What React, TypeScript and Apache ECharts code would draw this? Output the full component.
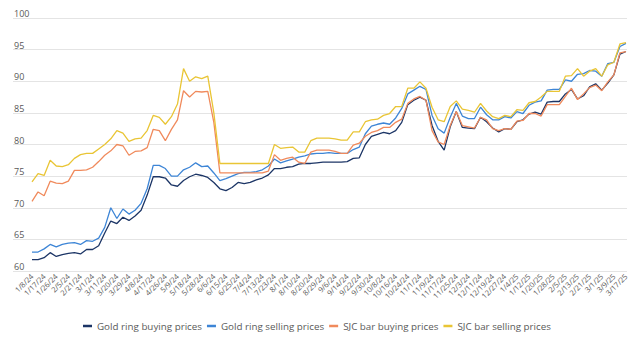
import React, { useEffect, useRef } from "react";
import * as echarts from "echarts";

const categories = [
  "1/8/24", "1/12/24", "1/17/24", "1/22/24", "1/26/24", "1/31/24", "2/5/24", "2/14/24", "2/21/24", "2/26/24",
  "3/1/24", "3/6/24", "3/11/24", "3/15/24", "3/20/24", "3/25/24", "3/29/24", "4/3/24", "4/8/24", "4/12/24",
  "4/17/24", "4/22/24", "4/26/24", "5/3/24", "5/9/24", "5/14/24", "5/18/24", "5/23/24", "5/28/24", "6/1/24",
  "6/6/24", "6/11/24", "6/15/24", "6/20/24", "6/25/24", "6/29/24", "7/4/24", "7/9/24", "7/13/24", "7/18/24",
  "7/23/24", "7/27/24", "8/1/24", "8/6/24", "8/10/24", "8/15/24", "8/20/24", "8/24/24", "8/29/24", "9/3/24",
  "9/6/24", "9/10/24", "9/14/24", "9/18/24", "9/22/24", "9/26/24", "9/30/24", "10/4/24", "10/8/24", "10/12/24",
  "10/16/24", "10/20/24", "10/24/24", "10/28/24", "11/1/24", "11/5/24", "11/9/24", "11/13/24", "11/17/24", "11/21/24",
  "11/25/24", "11/29/24", "12/3/24", "12/7/24", "12/11/24", "12/15/24", "12/19/24", "12/23/24", "12/27/24", "12/31/24",
  "1/4/25", "1/8/25", "1/12/25", "1/16/25", "1/20/25", "1/24/25", "1/28/25", "2/1/25", "2/5/25", "2/9/25",
  "2/13/25", "2/17/25", "2/21/25", "2/25/25", "3/1/25", "3/5/25", "3/9/25", "3/13/25", "3/17/25",
];

const ringBuy = [
  61.8, 61.8, 62.1, 62.9, 62.3, 62.6, 62.8, 62.9, 62.7, 63.4,
  63.4, 64.0, 66.0, 67.9, 67.5, 68.5, 68.0, 68.7, 69.6, 72.0,
  74.9, 74.9, 74.7, 73.6, 73.4, 74.3, 74.9, 75.3, 75.1, 74.8,
  74.0, 73.0, 72.7, 73.2, 74.0, 73.8, 74.0, 74.4, 74.7, 75.2,
  76.2, 76.2, 76.4, 76.5, 76.9, 77.0, 77.0, 77.1, 77.2, 77.2,
  77.2, 77.2, 77.3, 77.8, 77.9, 80.0, 81.3, 81.6, 81.9, 81.7,
  82.2, 83.5, 86.3, 87.0, 87.5, 87.0, 83.0, 80.5, 79.1, 82.8,
  85.2, 82.7, 82.6, 82.5, 84.3, 83.6, 82.6, 82.0, 82.5, 82.4,
  83.6, 83.9, 84.8, 85.1, 84.8, 86.7, 86.8, 86.8, 88.0, 88.7,
  87.2, 87.7, 89.1, 89.6, 88.6, 89.7, 91.0, 94.3, 94.7,
];

const ringSell = [
  63.0, 63.0, 63.5, 64.2, 63.8, 64.2, 64.4, 64.5, 64.2, 64.8,
  64.7, 65.2, 66.9, 70.0, 68.3, 69.8, 69.0, 69.6, 70.7, 73.0,
  76.7, 76.7, 76.2, 75.0, 75.0, 76.0, 76.4, 77.1, 76.5, 76.6,
  75.5, 74.3, 74.6, 75.0, 75.4, 75.6, 75.6, 75.7, 76.0, 76.6,
  77.7, 77.1, 77.4, 77.7, 78.0, 78.2, 78.5, 78.6, 78.6, 78.7,
  78.6, 78.6, 78.6, 79.2, 79.6, 81.7, 82.9, 83.2, 83.4, 83.2,
  84.2, 85.7, 88.0, 88.6, 89.2, 88.7, 84.6, 82.5, 81.8, 84.3,
  86.5, 84.5, 84.1, 84.1, 85.9, 84.7, 83.9, 83.9, 84.4, 84.2,
  85.2, 84.9, 86.2, 86.7, 86.9, 88.6, 88.7, 88.7, 90.2, 90.0,
  91.1, 91.2, 91.7, 91.6, 90.8, 92.8, 93.0, 95.5, 96.0,
];

const sjcBuy = [
  71.0, 72.5, 71.9, 74.2, 73.9, 73.8, 74.2, 75.9, 75.9, 76.0,
  76.4, 77.3, 78.3, 79.0, 80.0, 79.8, 78.3, 78.9, 79.0, 79.5,
  82.4, 82.2, 80.6, 82.4, 83.9, 88.5, 87.5, 88.4, 88.3, 88.4,
  83.5, 75.5, 75.5, 75.5, 75.5, 75.5, 75.5, 75.5, 75.5, 75.8,
  78.4, 77.5, 77.8, 78.0, 77.2, 77.0, 78.8, 79.1, 79.1, 79.1,
  78.9, 78.6, 78.6, 79.9, 80.2, 81.3, 81.9, 82.2, 82.7, 82.7,
  83.5, 84.0, 86.5, 87.2, 87.6, 87.0, 82.2, 80.4, 80.0, 83.0,
  85.2, 83.0, 82.8, 82.6, 84.3, 83.9, 82.5, 82.2, 82.5, 82.4,
  83.7, 83.8, 84.9, 84.9, 84.5, 86.3, 86.3, 86.3, 87.6, 88.9,
  87.1, 88.0, 89.0, 89.4, 88.5, 89.9, 91.0, 94.5, 94.7,
];

const sjcSell = [
  74.1, 75.4, 75.1, 77.5, 76.6, 76.5, 76.8, 77.8, 78.4, 78.6,
  78.6, 79.3, 80.0, 80.9, 82.2, 81.8, 80.5, 80.9, 81.0, 82.2,
  84.6, 84.3, 83.2, 84.4, 86.4, 92.0, 90.0, 90.7, 90.4, 90.8,
  85.0, 77.0, 77.0, 77.0, 77.0, 77.0, 77.0, 77.0, 77.0, 77.0,
  80.0, 79.4, 79.5, 79.6, 78.8, 78.8, 80.6, 81.0, 81.0, 81.0,
  80.9, 80.7, 80.7, 82.0, 82.0, 83.6, 83.9, 84.0, 84.6, 84.9,
  86.0, 86.0, 88.9, 88.9, 89.9, 88.9, 85.9, 83.9, 83.6, 86.0,
  86.9, 85.6, 85.4, 85.1, 86.5, 85.3, 84.4, 84.1, 84.6, 84.4,
  85.5, 85.4, 86.6, 86.8, 87.5, 88.4, 88.4, 88.4, 90.8, 90.9,
  92.0, 90.8, 91.6, 92.0, 90.8, 92.6, 93.0, 95.9, 96.1,
];

const seriesNames = [
  "Gold ring buying prices",
  "Gold ring selling prices",
  "SJC bar buying prices",
  "SJC bar selling prices",
];
const seriesColors = ["#1c3566", "#3d85d6", "#f08a5c", "#e9c535"];

export default function App() {
  const ref = useRef<HTMLDivElement>(null);
  useEffect(() => {
    if (!ref.current) return;
    const chart = echarts.init(ref.current, null, { renderer: "svg" });
    const dataSets = [ringBuy, ringSell, sjcBuy, sjcSell];
    chart.setOption({
      animation: false,
      textStyle: { fontFamily: "Open Sans" },
      grid: [
        { left: 13, right: 13, top: 18, bottom: 69 },
        { left: 32, right: 14, top: 18, bottom: 69 },
      ],
      xAxis: [
        { gridIndex: 0, type: "category", data: categories, boundaryGap: false, show: false },
        {
          gridIndex: 1,
          type: "category",
          data: categories,
          boundaryGap: false,
          axisLine: { show: false },
          axisTick: { show: false },
          splitLine: { show: false },
          axisLabel: {
            interval: 1,
            rotate: 45,
            fontSize: 7.5,
            color: "#595959",
            margin: 4,
          },
        },
      ],
      yAxis: [
        {
          gridIndex: 0,
          type: "value",
          min: 60,
          max: 100,
          interval: 5,
          axisLine: { show: false },
          axisTick: { show: false },
          splitLine: { lineStyle: { color: "#e4e4e4", width: 1 } },
          axisLabel: {
            inside: true,
            margin: 1,
            verticalAlign: "bottom",
            fontSize: 9,
            color: "#595959",
          },
        },
        { gridIndex: 1, type: "value", min: 60, max: 100, show: false },
      ],
      legend: {
        left: 78,
        top: 316,
        icon: "rect",
        itemWidth: 9,
        itemHeight: 2.5,
        itemGap: 5,
        textStyle: { fontSize: 9.8, color: "#595959" },
        data: seriesNames,
      },
      series: seriesNames.map((name, k) => ({
        name,
        type: "line",
        xAxisIndex: 1,
        yAxisIndex: 1,
        data: dataSets[k],
        showSymbol: false,
        symbol: "none",
        color: seriesColors[k],
        lineStyle: { width: 1.3, color: seriesColors[k] },
      })),
    });
    return () => chart.dispose();
  }, []);
  return (
    <div
      ref={ref}
      style={{ position: "fixed", left: 0, top: 0, width: 640, height: 340, background: "#ffffff" }}
    />
  );
}
